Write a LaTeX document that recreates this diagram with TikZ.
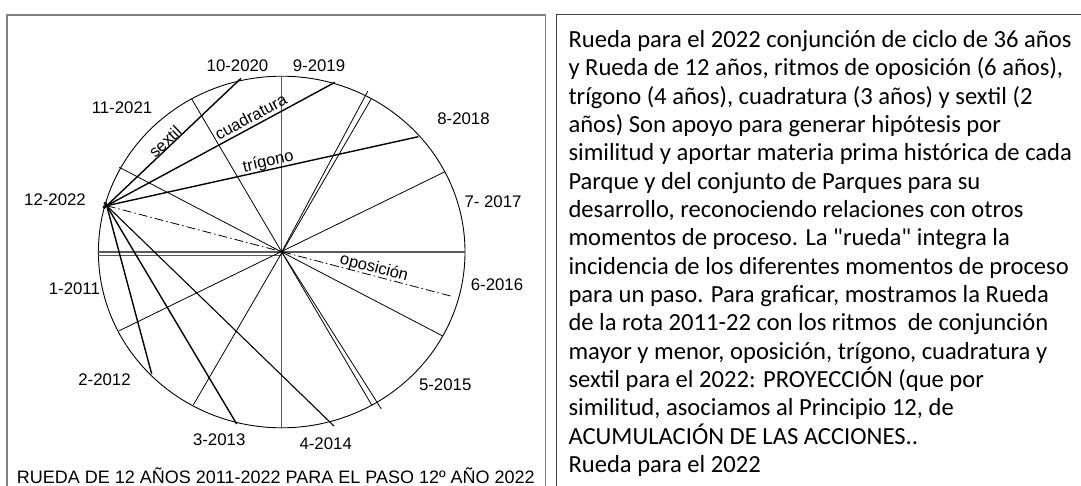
\documentclass[tikz,border=0pt]{standalone}
\usepackage{fontspec}
\setmainfont{Liberation Sans}
\newfontfamily\calib{Carlito}
\begin{document}
\begin{tikzpicture}[x=1pt,y=-1pt,
  frameA/.style={black!50,line width=2pt},
  frameB/.style={black!50,line width=1pt},
  frameC/.style={black!75,line width=1pt},
  rim/.style={line width=0.9pt,black},
  spoke/.style={line width=0.8pt,black},
  axisln/.style={line width=1.4pt,black!65},
  aspect/.style={line width=1.4pt,black,shorten <=-4pt},
  oppo/.style={line width=0.8pt,black,dash pattern=on 9pt off 3pt on 1.5pt off 3pt},
  lbl/.style={font=\fontsize{16.8}{19}\selectfont,inner sep=0pt},
  onl/.style={font=\fontsize{16.5}{19}\selectfont,inner sep=0pt},
  txt/.style={font=\calib\fontsize{24.6}{28}\selectfont,anchor=base west,inner sep=0pt}]
\useasboundingbox (0,0) rectangle (1081,485);
\fill[white] (0,0) rectangle (1081,485);
% frames
\draw[frameA] (6.7,500) -- (6.7,15) -- (545.7,15);
\draw[frameB] (545.7,15) -- (545.7,500);
\draw[frameC] (556.7,500) -- (556.7,14) -- (1090,14);
% wheel
\coordinate (C) at (281.7,252);
\draw[rim] (C) ellipse [x radius=183.3, y radius=175.8];
% spoke end points
\coordinate (V1) at (281.7,76);   \coordinate (V2) at (281.7,427.7);
\coordinate (H1) at (98.3,252);   \coordinate (H2) at (465,252);
\coordinate (H3) at (98.3,255.7); \coordinate (H4) at (281.7,255.7);
\coordinate (A1) at (119.3,167.3); \coordinate (A2) at (442.7,336);
\coordinate (B1) at (191.7,99);   \coordinate (B2) at (371.7,405);
\coordinate (G1) at (371,99.3);   \coordinate (G2) at (193.3,405);
\coordinate (K1) at (445,171.7);  \coordinate (K2) at (119.3,330.7);
\coordinate (D1) at (367.8,91.2); \coordinate (D2) at (381.2,408.8);
% aspect points
\coordinate (P12) at (106.7,205.7);
\coordinate (E10) at (241,78.3);
\coordinate (E9) at (335,82.3);
\coordinate (E8) at (418.3,136.7);
\coordinate (E6) at (453.3,296.7);
\coordinate (E2) at (151.7,374);
\coordinate (E3) at (236.7,424);
\coordinate (E4) at (334,426);
% spokes
\draw[axisln] (V1) -- (V2);
\draw[axisln] (H1) -- (H2);
\draw[axisln] (H3) -- (H4);
\draw[spoke] (A1) -- (A2);
\draw[spoke] (B1) -- (B2);
\draw[spoke] (G1) -- (G2);
\draw[spoke] (K1) -- (K2);
\draw[spoke] (C) -- (D1);
\draw[spoke] (C) -- (D2);
% aspects from 12-2022
\draw[aspect] (P12) -- (E10);
\draw[aspect] (P12) -- (E9);
\draw[aspect] (P12) -- (E8);
\draw[aspect] (P12) -- (E2);
\draw[aspect] (P12) -- (E3);
\draw[aspect,line width=1.1pt] (P12) -- (E4);
\draw[oppo] (P12) -- (E6);
\fill (C) circle (1.6pt);
% line labels
\node[onl,rotate=43.5] (lsex) at (165,141.7) {sextil};
\node[onl,rotate=28.4] (lcua) at (250.7,116.7) {cuadratura};
\node[onl,rotate=12.5] (ltri) at (268.3,162.3) {trígono};
\node[onl,rotate=-14.6] (lopo) at (374,268.3) {oposición};
% year labels
\node[lbl] (y10) at (237.5,65.5) {10-2020};
\node[lbl] (y9) at (319,65.5) {9-2019};
\node[lbl] (y11) at (122,108) {11-2021};
\node[lbl] (y8) at (463.5,118.3) {8-2018};
\node[lbl] (y12) at (55,200) {12-2022};
\node[lbl] (y7) at (493,201.7) {7- 2017};
\node[lbl] (y1) at (74.4,289) {1-2011};
\node[lbl] (y6) at (497,285) {6-2016};
\node[lbl] (y2) at (104.5,379.3) {2-2012};
\node[lbl] (y5) at (445.2,385) {5-2015};
\node[lbl] (y3) at (219.2,439.5) {3-2013};
\node[lbl] (y4) at (325.7,443.3) {4-2014};
% caption
\node[font=\fontsize{18}{20}\selectfont,anchor=base west,inner sep=0pt] (cap) at (16.7,483.2) {RUEDA DE 12 AÑOS 2011-2022 PARA EL PASO 12º AÑO 2022};
% right text
\node[txt] (t1) at (568.3,47.5) {Rueda para el 2022 conjunción de ciclo de 36 años};
\node[txt] (t2) at (568.3,75.83) {y Rueda de 12 años, ritmos de oposición (6 años),};
\node[txt] (t3) at (568.3,104.17) {trígono (4 años), cuadratura (3 años) y sextil (2};
\node[txt] (t4) at (568.3,132.5) {años) Son apoyo para generar hipótesis por};
\node[txt] (t5) at (568.3,160.83) {similitud y aportar materia prima histórica de cada};
\node[txt] (t6) at (568.3,189.17) {Parque y del conjunto de Parques para su};
\node[txt] (t7) at (568.3,217.5) {desarrollo, reconociendo relaciones con otros};
\node[txt] (t8) at (568.3,245.83) {momentos de proceso. La "rueda" integra la};
\node[txt] (t9) at (568.3,274.17) {incidencia de los diferentes momentos de proceso};
\node[txt] (t10) at (568.3,302.5) {para un paso. Para graficar, mostramos la Rueda};
\node[txt] (t11) at (568.3,330.83) {de la rota 2011-22 con los ritmos\ \ de conjunción};
\node[txt] (t12) at (568.3,359.17) {mayor y menor, oposición, trígono, cuadratura y};
\node[txt] (t13) at (568.3,387.5) {sextil para el 2022: PROYECCIÓN (que por};
\node[txt] (t14) at (568.3,415.83) {similitud, asociamos al Principio 12, de};
\node[txt] (t15) at (568.3,444.17) {ACUMULACIÓN DE LAS ACCIONES..};
\node[txt] (t16) at (568.3,472.5) {Rueda para el 2022};
\end{tikzpicture}
\end{document}
